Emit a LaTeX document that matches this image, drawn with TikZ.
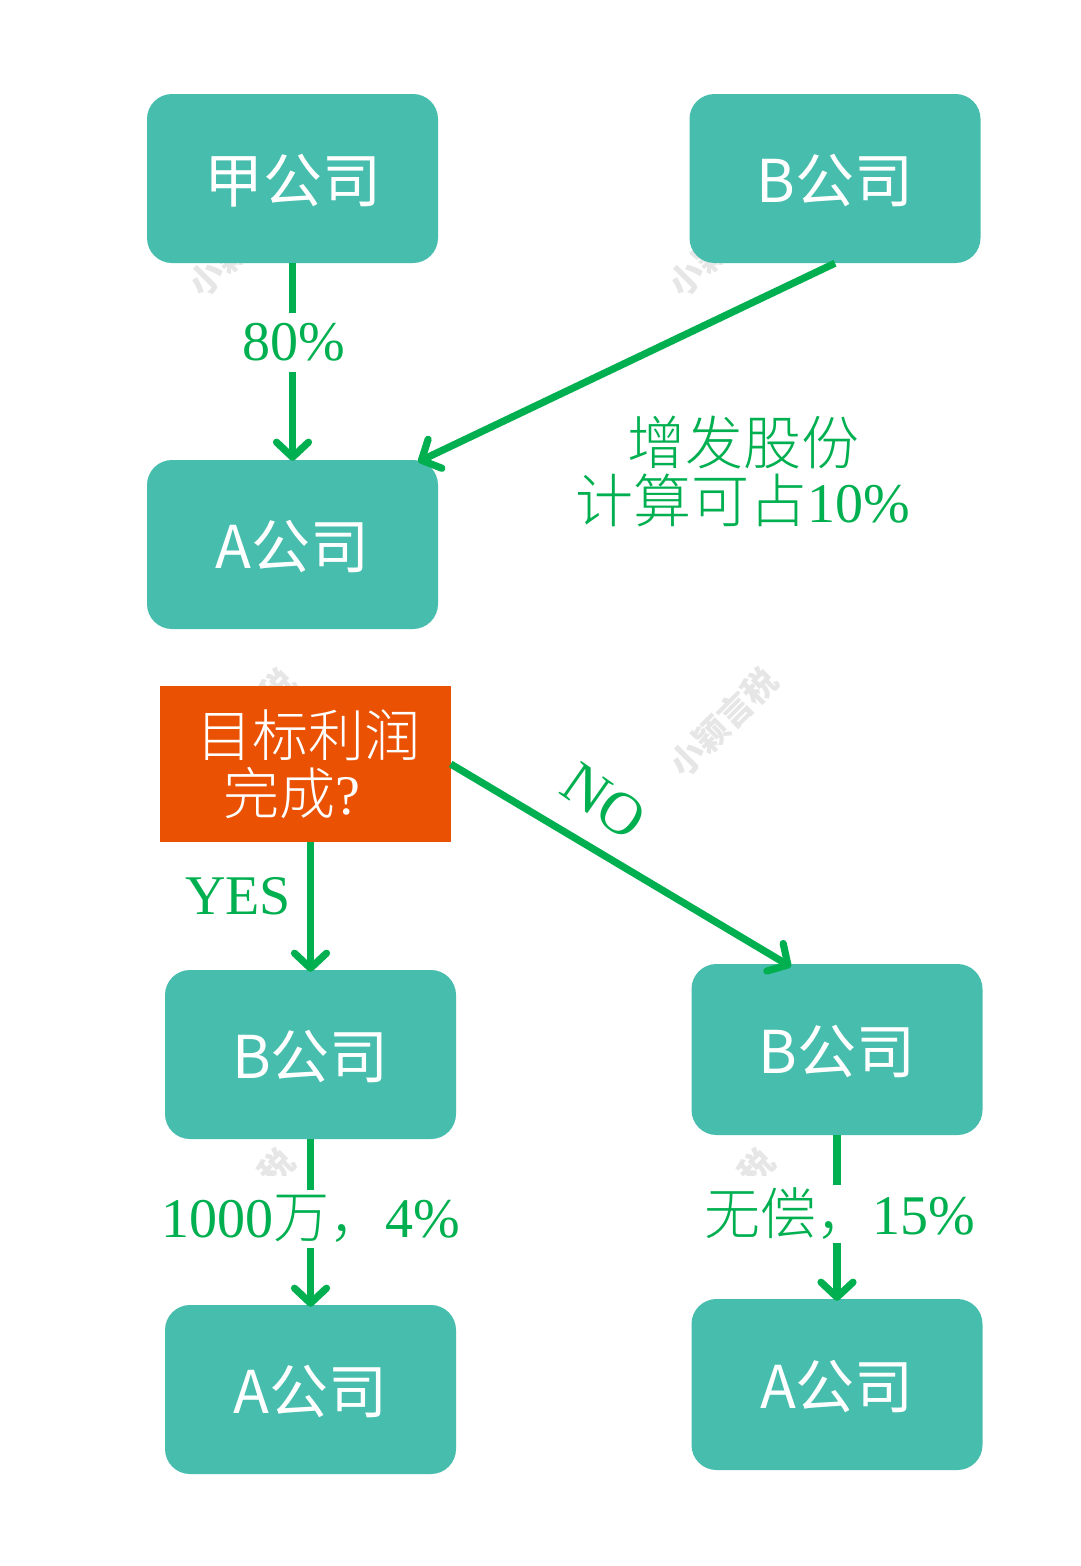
\documentclass[tikz,border=0pt]{standalone}
\usepackage{fontspec}
\setmainfont{Liberation Serif}
\newfontfamily\zh[UprightFont={* Light},BoldFont={* Light}]{Noto Sans CJK SC}
\newfontfamily\zhreg{Noto Sans CJK SC}
\usetikzlibrary{arrows.meta}
\definecolor{tealbox}{HTML}{47BDAD}
\definecolor{linegreen}{HTML}{00B050}
\definecolor{orangebox}{HTML}{EA5103}
\definecolor{wmgray}{HTML}{E6E6E6}
\tikzset{
  x=1pt,y=-1pt,
  box/.style={fill=tealbox,rounded corners=25pt,text=white,inner sep=0pt,minimum width=291pt,minimum height=169pt,font=\fontsize{59}{62}\selectfont\zhreg,text depth=4pt,text height=51pt},
  decision/.style={fill=orangebox,text=white,inner sep=0pt,minimum width=291pt,minimum height=156pt,align=center,font=\fontsize{56}{58}\selectfont\zh},
  conn/.style={draw=linegreen,line width=7.2pt,-{Straight Barb[length=15pt,width=32pt,round]}},
  lab/.style={text=linegreen,fill=white,inner sep=0pt,align=center,font=\fontsize{56}{58}\selectfont},
  plainlab/.style={text=linegreen,inner sep=0pt,align=center,font=\fontsize{56}{58}\selectfont},
  wm/.style={text=wmgray,rotate=45,inner sep=0pt,font=\fontsize{34}{36}\selectfont\zhreg\bfseries}
}
\newcommand{\bigzh}{\fontsize{58}{58}\selectfont\zh}
\begin{document}
\begin{tikzpicture}
\useasboundingbox (0,0) rectangle (1080,1566);
\fill[white] (0,0) rectangle (1080,1566);
% watermarks (only the parts that show)
\node[wm] (w1) at (219,266) {小颖};
\node[wm] (w2) at (699,266) {小颖};
\node[wm] (w3) at (277,687) {税};
\node[wm] (w4) at (723,722) {小颖言税};
\begin{scope}
\clip (200,1100) rectangle (800,1175);
\node[wm] (w5) at (276,1167) {税};
\node[wm] (w6) at (756,1167) {税};
\end{scope}
% boxes
\node[box] (jia) at (292.5,178.5) {甲公司};
\node[box] (bt) at (835,178.5) {B公司};
\node[box] (at) at (292.5,544.5) {A公司};
\node[decision] (goal) at (305,764) {\hspace*{6pt}目标利润\\完成{\fontspec{Liberation Serif}?}\hspace*{26pt}};
\node[box] (bl) at (310.5,1054.5) {B公司};
\node[box,minimum height=171pt] (br) at (837,1049.5) {B公司};
\node[box] (al) at (310.5,1389.5) {A公司};
\node[box,minimum height=171pt] (ar) at (837,1384.5) {A公司};
% connectors
\draw[conn] (jia) -- ([yshift=-1pt]at.north);
\draw[conn] (bt.south) -- ([xshift=-20pt,yshift=-2pt]at.north east);
\draw[conn] (goal.south -| bl.north) -- ([yshift=-2pt]bl.north);
\draw[conn] (goal.east) -- ([xshift=-46pt,yshift=-3pt]br.north);
\draw[conn] (bl) -- ([yshift=-2pt]al.north);
\draw[conn] (br) -- ([yshift=-2pt]ar.north);
% labels
\node[lab,minimum height=59pt] (l1) at (294,342) {80\%};
\node[plainlab] (l2) at (743,471) {{\bigzh 增发股份}\\{\bigzh 计算可占}10\%};
\node[plainlab,rotate=-35,font=\fontsize{60}{60}\selectfont] (l3) at (604,801) {NO};
\node[plainlab] (l4) at (238,896) {YES};
\node[lab,minimum height=58pt] (l5) at (311,1219) {1000{\zh 万，}4\%};
\node[lab,minimum height=58pt] (l6) at (840,1214) {{\zh 无偿，}15\%};
\end{tikzpicture}
\end{document}
